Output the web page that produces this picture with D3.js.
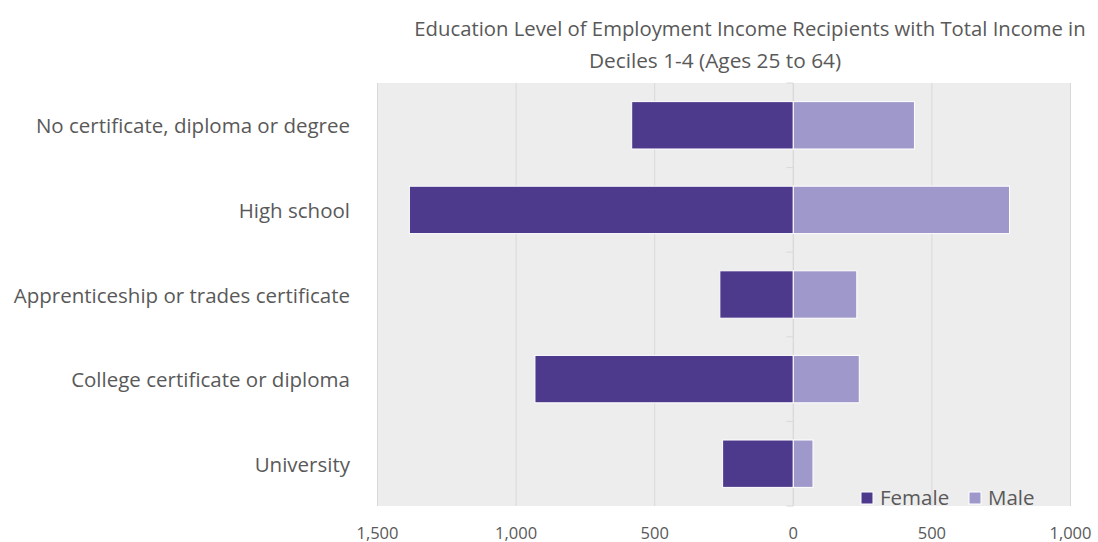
<!DOCTYPE html>
<html>
<head>
<meta charset="utf-8">
<script src="https://cdn.jsdelivr.net/npm/d3@7"></script>
<style>
  html, body { margin: 0; padding: 0; background: #ffffff; }
  svg { display: block; font-family: "Open Sans", "Noto Sans", sans-serif; }
</style>
</head>
<body>
<svg id="chart" width="1098" height="542"></svg>
<script>
// Education categories, top to bottom
const categories = [
  "No certificate, diploma or degree",
  "High school",
  "Apprenticeship or trades certificate",
  "College certificate or diploma",
  "University"
];
// Number of recipients by sex
const femaleValues = [583, 1385, 265, 932, 255];
const maleValues   = [437, 780, 229, 238, 71];
const seriesNames  = ["Female", "Male"];
const tickValues   = [-1500, -1000, -500, 0, 500, 1000];
const titleLines   = [
  "Education Level of Employment Income Recipients with Total Income in",
  "Deciles 1-4 (Ages 25 to 64)"
];

const colors = { Female: "#4e3a8c", Male: "#9f98ca" };
const textColor = "#595959";

const svg = d3.select("#chart");
const plot = { left: 377.5, right: 1070.5, top: 83, bottom: 506 };

const x = d3.scaleLinear().domain([-1500, 1000]).range([plot.left, plot.right]);
const y = d3.scaleBand().domain(categories).range([plot.top, plot.bottom])
  .paddingInner(0.44).paddingOuter(0.22);
const yEdges = d3.scaleLinear().domain([0, categories.length]).range([plot.top, plot.bottom]);

// Plot background
svg.append("rect")
  .attr("x", plot.left).attr("y", plot.top)
  .attr("width", plot.right - plot.left).attr("height", plot.bottom - plot.top)
  .attr("fill", "#ededed");

// Vertical gridlines
svg.append("g").selectAll("line").data(tickValues).join("line")
  .attr("x1", d => x(d)).attr("x2", d => x(d))
  .attr("y1", plot.top).attr("y2", plot.bottom)
  .attr("stroke", "#d9d9d9").attr("stroke-width", 1);

// Category axis at zero with small tick marks between categories
const axisG = svg.append("g").attr("transform", `translate(${x(0)},0)`);
axisG.append("line")
  .attr("x1", 0).attr("x2", 0).attr("y1", plot.top).attr("y2", plot.bottom)
  .attr("stroke", "#d9d9d9");
axisG.selectAll("line.tick").data(d3.range(categories.length + 1)).join("line")
  .attr("class", "tick")
  .attr("x1", -7).attr("x2", 0)
  .attr("y1", d => yEdges(d)).attr("y2", d => yEdges(d))
  .attr("stroke", "#d9d9d9");

// Bars: female extends left of zero, male to the right
const rows = categories.map((c, i) => ({ cat: c, Female: femaleValues[i], Male: maleValues[i] }));
const bars = svg.append("g");
bars.selectAll("rect.female").data(rows).join("rect")
  .attr("class", "female")
  .attr("x", d => x(-d.Female)).attr("y", d => y(d.cat))
  .attr("width", d => x(0) - x(-d.Female)).attr("height", y.bandwidth())
  .attr("fill", colors.Female).attr("stroke", "#ffffff").attr("stroke-width", 1);
bars.selectAll("rect.male").data(rows).join("rect")
  .attr("class", "male")
  .attr("x", x(0)).attr("y", d => y(d.cat))
  .attr("width", d => x(d.Male) - x(0)).attr("height", y.bandwidth())
  .attr("fill", colors.Male).attr("stroke", "#ffffff").attr("stroke-width", 1);

// Category labels
svg.append("g").selectAll("text").data(categories).join("text")
  .attr("x", 350).attr("y", d => y(d) + y.bandwidth() / 2)
  .attr("text-anchor", "end").attr("dominant-baseline", "central")
  .attr("fill", textColor).attr("font-size", 20.5)
  .text(d => d);

// Value axis labels (absolute values)
const fmt = d3.format(",");
svg.append("g").selectAll("text").data(tickValues).join("text")
  .attr("x", d => x(d)).attr("y", 532)
  .attr("text-anchor", "middle").attr("dominant-baseline", "central")
  .attr("fill", textColor).attr("font-size", 16.5)
  .text(d => fmt(Math.abs(d)));

// Title, two lines
svg.append("text").attr("x", 750).attr("y", 28)
  .attr("text-anchor", "middle").attr("dominant-baseline", "central")
  .attr("fill", textColor).attr("font-size", 20.3)
  .text(titleLines[0]);
svg.append("text").attr("x", 715).attr("y", 60)
  .attr("text-anchor", "middle").attr("dominant-baseline", "central")
  .attr("fill", textColor).attr("font-size", 20.8)
  .text(titleLines[1]);

// Legend
const legendPos = [{ name: seriesNames[0], x: 861 }, { name: seriesNames[1], x: 969 }];
const legend = svg.append("g");
legend.selectAll("rect").data(legendPos).join("rect")
  .attr("x", d => d.x).attr("y", 492).attr("width", 12).attr("height", 12)
  .attr("fill", d => colors[d.name]).attr("stroke", "#ffffff").attr("stroke-width", 1);
legend.selectAll("text").data(legendPos).join("text")
  .attr("x", d => d.x + 19).attr("y", 497)
  .attr("dominant-baseline", "central")
  .attr("fill", textColor).attr("font-size", 20.5)
  .text(d => d.name);
</script>
</body>
</html>
